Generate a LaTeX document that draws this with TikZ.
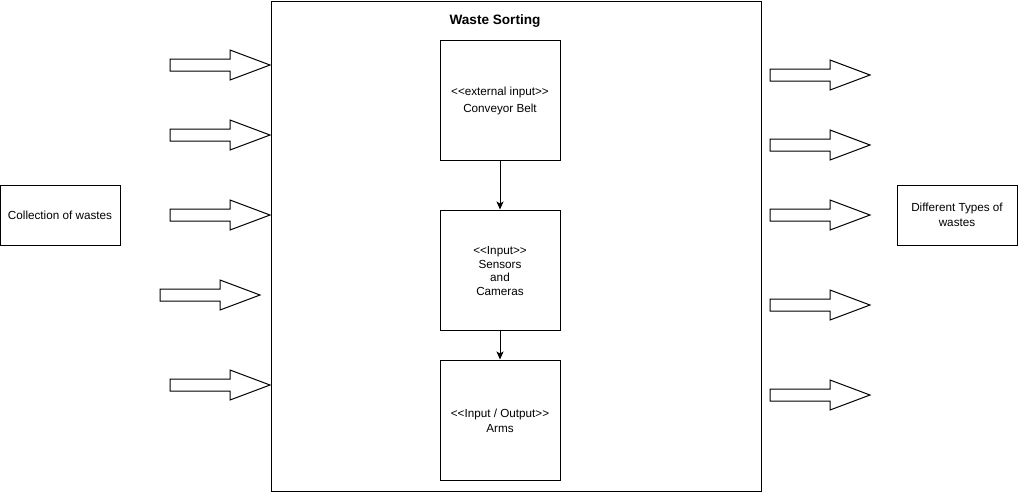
\documentclass[tikz,border=0pt]{standalone}
\usepackage{fontspec}
\setmainfont{Liberation Sans}
\usetikzlibrary{arrows.meta}
\begin{document}
\begin{tikzpicture}[x=1pt,y=-1pt,
  box/.style={draw=black,line width=1pt,fill=white,inner sep=0pt,align=center,font=\fontsize{11.7}{15}\selectfont},
  lbl/.style={inner sep=0pt,align=center,font=\fontsize{11.7}{15}\selectfont},
  conn/.style={draw=black,line width=1pt,-{Stealth[length=8pt,width=7pt,inset=2pt]}},
  blockarrow/.pic={\draw[line width=1pt,fill=white] (0,-6) -- (60,-6) -- (60,-15) -- (100,0) -- (60,15) -- (60,6) -- (0,6) -- cycle;}
]
\useasboundingbox (0,0) rectangle (1018,491);
% main container
\node[box,minimum width=490pt,minimum height=490pt,anchor=north west] (main) at (270.5,0.5) {};
\node[font=\fontsize{13.6}{15}\selectfont\bfseries,inner sep=0pt] (title) at (495,21) {Waste Sorting};
% inner boxes
\node[box,minimum width=120pt,minimum height=120pt] (belt) at (500,100) {};
\node[lbl] (beltt) at (500,101) {{<}{<}external input{>}{>}\\[2pt]Conveyor Belt};
\node[box,minimum width=120pt,minimum height=120pt] (sens) at (500,270) {};
\node[lbl,font=\fontsize{11.7}{13.8}\selectfont] (senst) at (500,271) {{<}{<}Input{>}{>}\\Sensors\\and\\Cameras};
\node[box,minimum width=120pt,minimum height=120pt] (arms) at (500,420) {};
\node[lbl] (armst) at (500,421) {{<}{<}Input / Output{>}{>}\\Arms};
\draw[conn] (belt.south) -- (sens.north);
\draw[conn] (sens.south) -- (arms.north);
% side boxes
\node[box,minimum width=120pt,minimum height=60pt] (coll) at (60,215) {Collection of wastes};
\node[box,minimum width=120pt,minimum height=60pt] (types) at (957,215) {Different Types of\\wastes};
% left block arrows
\pic at (170,65) {blockarrow};
\pic at (170,135) {blockarrow};
\pic at (170,215) {blockarrow};
\pic at (160,295) {blockarrow};
\pic at (170,385) {blockarrow};
% right block arrows
\pic at (770,75) {blockarrow};
\pic at (770,145) {blockarrow};
\pic at (770,215) {blockarrow};
\pic at (770,305) {blockarrow};
\pic at (770,395) {blockarrow};
\end{tikzpicture}
\end{document}
